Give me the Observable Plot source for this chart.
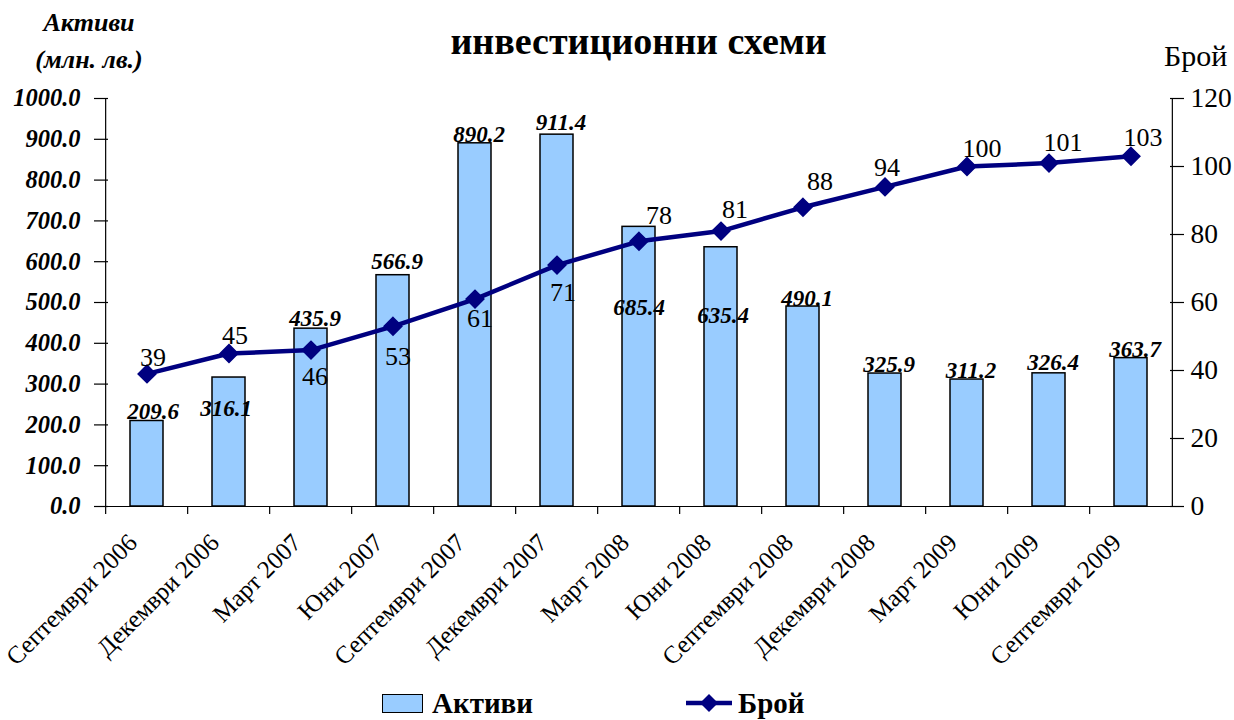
<!DOCTYPE html>
<html>
<head>
<meta charset="utf-8">
<script src="https://cdn.jsdelivr.net/npm/d3@7"></script>
<script src="https://cdn.jsdelivr.net/npm/@observablehq/plot@0.6"></script>
<style>
  html, body { margin: 0; padding: 0; background: #fff; }
  #wrap { position: relative; width: 1234px; height: 720px; font-family: "Liberation Serif", "Times New Roman", serif; overflow: hidden; }
  #title { position: absolute; left: 0; width: 1277px; top: 22px; text-align: center; font-weight: bold; font-size: 38px; line-height: 1; }
  #ylab { position: absolute; left: 0; width: 178px; top: 4px; text-align: center; font-weight: bold; font-style: italic; font-size: 26px; line-height: 37px; }
  #y2lab { position: absolute; left: 1164px; top: 41px; font-size: 30px; line-height: 1; }
  #legend { position: absolute; top: 688px; left: 0; width: 1234px; height: 30px; font-weight: bold; font-size: 29px; }
  .lg { position: absolute; top: 0; display: flex; align-items: center; height: 30px; }
  .sw { display: inline-block; width: 41px; height: 19px; background: #99ccff; border: 1.5px solid #000; margin-right: 9px; box-sizing: border-box; }
</style>
</head>
<body>
<div id="wrap">
  <div id="chart"></div>
  <div id="title">инвестиционни схеми</div>
  <div id="ylab">Активи<br>(млн. лв.)</div>
  <div id="y2lab">Брой</div>
  <div id="legend">
    <div class="lg" style="left:382px"><span class="sw"></span>Активи</div>
    <div class="lg" style="left:686px"><svg width="46" height="20" style="margin-right:6px"><line x1="0" y1="10" x2="46" y2="10" stroke="#000080" stroke-width="4.5"/><path d="M23,1 L32,10 L23,19 L14,10 Z" fill="#000080"/></svg>Брой</div>
  </div>
</div>
<script>
const categories = ["Септември 2006","Декември 2006","Март 2007","Юни 2007","Септември 2007","Декември 2007","Март 2008","Юни 2008","Септември 2008","Декември 2008","Март 2009","Юни 2009","Септември 2009"];
const assets = [209.6, 316.1, 435.9, 566.9, 890.2, 911.4, 685.4, 635.4, 490.1, 325.9, 311.2, 326.4, 363.7];
const counts = [39, 45, 46, 53, 61, 71, 78, 81, 88, 94, 100, 101, 103];
const leftTicks = [0, 100, 200, 300, 400, 500, 600, 700, 800, 900, 1000];
const rightTicks = [0, 20, 40, 60, 80, 100, 120];
// label offsets (style only)
const assetLabelDy = [-9, 31, -10, -14, -9, -12, 81, 68, -8, -9, -9, -11, -8];
const assetLabelDx = [6, -3, 4, 4, 4, 4, 0, 2, 4, 4, 4, 4, 4];
const countLabelDy = [-16, -18, 27, 30, 20, 28, -26, -21, -26, -19, -18, -20, -19];
const countLabelDx = [6, 6, 4, 5, 5, 6, 20, 14, 17, 2, 15, 14, 12];

const W = 1234, H = 680, ML = 101, MR = 58, MT = 98, MB = 174;
const step = (W - ML - MR) / categories.length;
const leftMax = 1000, rightMax = 120;
const k = leftMax / rightMax;

const data = categories.map((c, i) => ({
  cat: c, assets: assets[i], count: counts[i], countScaled: counts[i] * k,
  aDy: assetLabelDy[i], aDx: assetLabelDx[i], cDy: countLabelDy[i], cDx: countLabelDx[i]
}));

const font = "Liberation Serif";
const navy = "#000080";

const marks = [
  Plot.barY(data, {x: "cat", y: "assets", fill: "#99ccff", stroke: "#000", strokeWidth: 1.5}),
  Plot.ruleY([0], {stroke: "#000", strokeWidth: 1.2}),
  Plot.ruleX([categories[0]], {x: d => d, dx: -step / 2, y1: 0, y2: leftMax, stroke: "#000", strokeWidth: 1.2}),
  Plot.ruleX([categories[categories.length - 1]], {x: d => d, dx: step / 2, y1: 0, y2: leftMax, stroke: "#000", strokeWidth: 1.2}),
  Plot.line(data, {x: "cat", y: "countScaled", stroke: navy, strokeWidth: 4.5}),
  Plot.dot(data, {x: "cat", y: "countScaled", symbol: "diamond2", r: 8, fill: navy, stroke: navy}),
  Plot.axisY(leftTicks, {anchor: "left", tickSize: 7, tickPadding: 14, tickFormat: d => d.toFixed(1), fontSize: 24.5, fontWeight: "bold", fontStyle: "italic", label: null, strokeWidth: 1.2}),
  Plot.axisY(leftTicks, {anchor: "left", tickSize: 7, dx: 7, tickFormat: () => "", label: null, strokeWidth: 1.2}),
  Plot.axisY(rightTicks.map(v => v * k), {anchor: "right", tickSize: 7, tickPadding: 7, tickFormat: d => String(Math.round(d / k)), fontSize: 27.5, label: null, strokeWidth: 1.2}),
  Plot.axisY(rightTicks.map(v => v * k), {anchor: "right", tickSize: 7, dx: -7, tickFormat: () => "", label: null, strokeWidth: 1.2}),
  Plot.axisX(categories, {anchor: "bottom", tickSize: 8, dx: -step / 2, tickFormat: () => "", label: null, strokeWidth: 1.2}),
  Plot.axisX(categories, {anchor: "bottom", tickSize: 0, tickPadding: 32, dx: -14, tickRotate: -45, fontSize: 25, label: null}),
  Plot.text(data, {x: "cat", y: "assets", text: d => d.assets.toFixed(1), fontSize: 23, fontWeight: "bold", fontStyle: "italic", fill: "#000"}),
  Plot.text(data, {x: "cat", y: "countScaled", text: d => String(d.count), fontSize: 26, fill: "#000"})
];

const chart = Plot.plot({
  width: W, height: H,
  marginLeft: ML, marginRight: MR, marginTop: MT, marginBottom: MB,
  style: {fontFamily: font, color: "#000", background: "#fff", overflow: "visible"},
  x: {domain: categories, paddingInner: 0.6, paddingOuter: 0.3, axis: null},
  y: {domain: [0, leftMax], axis: null},
  marks
});

// shift data labels individually
const textGroups = chart.querySelectorAll('g[aria-label="text"]');
if (textGroups.length >= 2) {
  textGroups[0].querySelectorAll("text").forEach((t, i) => {
    const tr = t.getAttribute("transform") || "";
    t.setAttribute("transform", tr + ` translate(${data[i].aDx},${data[i].aDy})`);
  });
  textGroups[1].querySelectorAll("text").forEach((t, i) => {
    const tr = t.getAttribute("transform") || "";
    t.setAttribute("transform", tr + ` translate(${data[i].cDx},${data[i].cDy})`);
  });
}
document.getElementById("chart").appendChild(chart);
</script>
</body>
</html>
